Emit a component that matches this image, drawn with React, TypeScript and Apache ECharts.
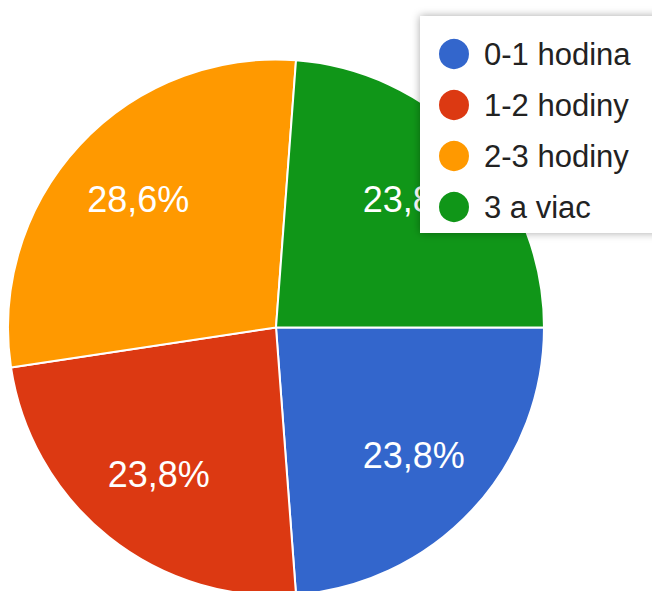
import React, { useEffect, useRef } from "react";
import * as echarts from "echarts";

const categories = ["0-1 hodina", "1-2 hodiny", "2-3 hodiny", "3 a viac"];
const values = [5, 5, 6, 5];
const colors = ["#3366cc", "#dc3912", "#ff9900", "#109618"];

const FONT = "'Liberation Sans', Arial, sans-serif";

export default function App() {
  const ref = useRef<HTMLDivElement>(null);
  useEffect(() => {
    if (!ref.current) return;
    const chart = echarts.init(ref.current, null, { renderer: "svg" });
    const data = categories.map((name, i) => ({
      name,
      value: values[i],
      itemStyle: { color: colors[i] },
    }));
    chart.setOption({
      animation: false,
      backgroundColor: "#ffffff",
      graphic: [
        {
          type: "rect",
          z: 3,
          shape: { x: 420, y: 16, width: 260, height: 217 },
          style: {
            fill: "#ffffff",
            shadowBlur: 8,
            shadowColor: "rgba(0,0,0,0.35)",
          },
        },
      ],
      legend: {
        orient: "vertical",
        left: 437,
        top: 37,
        padding: 0,
        z: 4,
        selectedMode: false,
        icon: "circle",
        itemWidth: 32,
        itemHeight: 32,
        itemGap: 17,
        data: categories.map((name, i) => ({ name, itemStyle: { color: colors[i] } })),
        textStyle: {
          fontFamily: FONT,
          fontSize: 31,
          color: "#222222",
          lineHeight: 32,
          padding: [0, 0, 0, 9],
        },
      },
      series: [
        {
          type: "pie",
          center: [276, 327.5],
          radius: [0, 268],
          startAngle: 0,
          clockwise: true,
          silent: true,
          label: { show: false },
          labelLine: { show: false },
          itemStyle: { borderColor: "#ffffff", borderWidth: 2 },
          data,
        },
        {
          type: "pie",
          center: [276, 327.5],
          radius: [102, 268],
          startAngle: 0,
          clockwise: true,
          silent: true,
          itemStyle: { color: "transparent", borderWidth: 0 },
          labelLine: { show: false },
          label: {
            show: true,
            position: "inside",
            color: "#ffffff",
            fontFamily: FONT,
            fontSize: 36,
            formatter: (p: any) => p.percent.toFixed(1).replace(".", ",") + "%",
          },
          data: categories.map((name, i) => ({
            name,
            value: values[i],
            itemStyle: { color: "transparent" },
          })),
        },
      ],
    });
    return () => chart.dispose();
  }, []);
  return (
    <div
      ref={ref}
      style={{ position: "fixed", left: 0, top: 0, width: 652, height: 591 }}
    />
  );
}
